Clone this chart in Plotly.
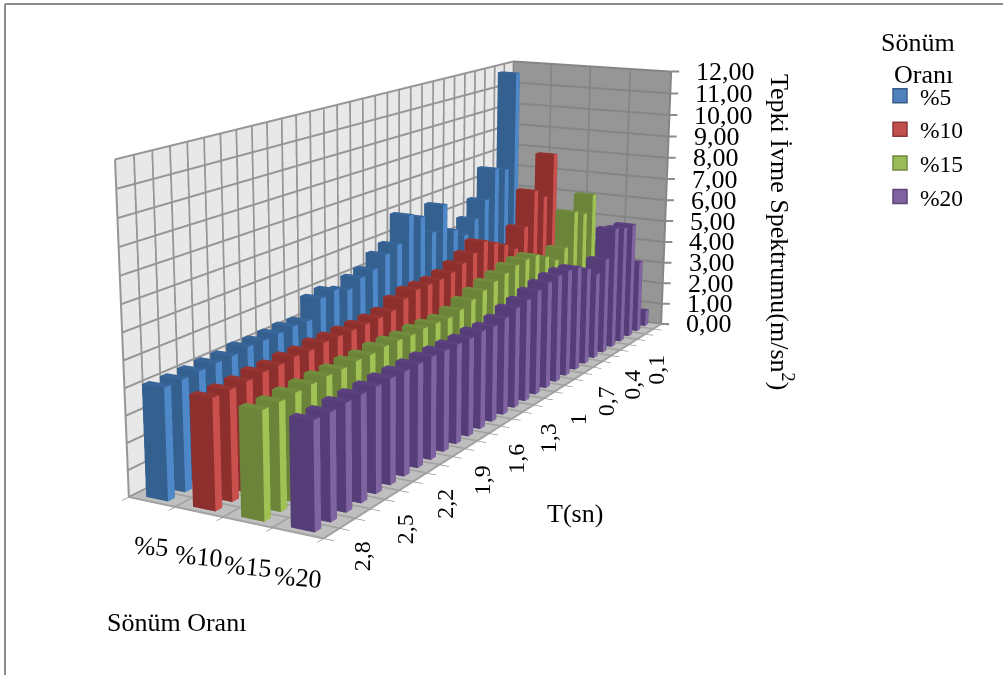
import plotly.graph_objects as go

T_LABELS = ["0,1","0,4","0,7","1","1,3","1,6","1,9","2,2","2,5","2,8"]
T_LABEL_INDEX = [0,3,6,9,12,15,18,21,24,27]
SERIES = ["%5","%10","%15","%20"]
Z_LABELS = ["0,00","1,00","2,00","3,00","4,00","5,00","6,00","7,00","8,00","9,00","10,00","11,00","12,00"]
S5  = [1.40,5.60,11.82,7.45,7.66,6.38,5.68,5.13,5.55,6.87,5.85,6.71,6.98,5.92,5.70,5.27,5.15,4.87,5.09,4.99,4.30,4.34,4.31,4.29,4.31,4.22,4.22,4.19,4.16,4.15]
S10 = [1.20,4.90,8.17,6.35,6.81,5.32,4.50,4.88,5.17,5.46,5.13,4.90,4.72,4.64,4.65,4.66,4.51,4.24,4.20,4.19,4.20,4.21,4.23,4.17,4.20,4.16,4.17,4.11,4.09,4.09]
S15 = [1.00,4.10,6.46,5.75,6.03,4.56,4.21,4.56,4.85,4.88,4.83,4.69,4.57,4.41,4.25,4.07,3.97,4.01,4.05,4.02,4.07,4.09,4.04,4.07,4.03,4.04,4.02,4.00,3.96,3.97]
S20 = [0.73,3.29,5.25,5.30,5.45,4.27,3.80,4.24,4.54,4.62,4.62,4.54,4.42,4.27,4.17,3.99,3.90,3.95,3.91,3.93,3.95,3.98,3.97,3.97,3.98,3.96,3.95,3.95,3.91,3.93]
VALUES = [S5,S10,S15,S20]
N = len(S5)

FRONT = ['#34608f','#8c2f2d','#6b843a','#553d77']
SIDE  = ['#4f88c9','#c9504c','#a0c254','#8064a2']
TOPC  = ['#38669a','#963432','#728c3e','#5b4180']
FILL  = ['#4f81bd','#c0504d','#9bbb59','#8064a2']
EDGE  = ['#385d8a','#8c3836','#71893f','#5c4776']
FONT = 'Liberation Serif'
GRID = '#8c8c8c'
H = 1491; TOP = 422; W = 1003
def px(x): return x/W
def py(y): return 1-(y+TOP)/H

HX, HY = 0.235, 0.2
fig = go.Figure()

def grid(xs,ys,zs,color):
    fig.add_trace(go.Scatter3d(x=xs,y=ys,z=zs,mode='lines',line=dict(color=color,width=4),
                               hoverinfo='skip',showlegend=False,connectgaps=False))
E = 0.004
lx,ly,lz = [],[],[]
for j in range(N+1): lx += [E,E,None]; ly += [j,j,None]; lz += [0,12,None]
for k in range(13): lx += [E,E,None]; ly += [0,N,None]; lz += [k,k,None]
grid(lx,ly,lz,'#969696')
lx,ly,lz = [],[],[]
for j in range(5): lx += [j,j,None]; ly += [N-E,N-E,None]; lz += [0,12,None]
for k in range(13): lx += [0,4,None]; ly += [N-E,N-E,None]; lz += [k,k,None]
grid(lx,ly,lz,'#858585')
lx,ly,lz = [],[],[]
for j in range(5): lx += [j,j,None]; ly += [0,N,None]; lz += [E,E,None]
for j in range(N+1): lx += [0,4,None]; ly += [j,j,None]; lz += [E,E,None]
grid(lx,ly,lz,'#a2a2a2')

for s, vals in enumerate(VALUES):
    X,Y,Z,I,J,K,FC = [],[],[],[],[],[],[]
    for i, v in enumerate(vals):
        yc = N-0.5-i
        x0,x1,y0,y1 = s+.5-HX, s+.5+HX, yc-HY, yc+HY
        b = len(X)
        X += [x0,x1,x1,x0,x0,x1,x1,x0]; Y += [y0,y0,y1,y1,y0,y0,y1,y1]; Z += [0,0,0,0,v,v,v,v]
        for f,c in [((0,1,5,4),FRONT[s]),((1,2,6,5),SIDE[s]),((4,5,6,7),TOPC[s]),((3,2,6,7),FRONT[s]),((0,3,7,4),FRONT[s])]:
            I += [b+f[0],b+f[0]]; J += [b+f[1],b+f[2]]; K += [b+f[2],b+f[3]]; FC += [c,c]
    fig.add_trace(go.Mesh3d(x=X,y=Y,z=Z,i=I,j=J,k=K,facecolor=FC,flatshading=True,name=SERIES[s],
        lighting=dict(ambient=1,diffuse=0,specular=0,fresnel=0),showscale=False,showlegend=False))
    fig.add_trace(go.Scatter(x=[None],y=[None],mode='markers',name=SERIES[s],
        marker=dict(symbol='square',size=14,color=FILL[s],line=dict(color=EDGE[s],width=1.5))))

axis = dict(showticklabels=False,title='',showgrid=False,showbackground=True,
            showline=False,zeroline=False,dtick=1,tick0=0,ticks='outside',ticklen=8,tickcolor=GRID,tickwidth=2)
txt = dict(family=FONT,size=26,color='black')
ann3d = []
for k,l in enumerate(Z_LABELS):
    ann3d.append(dict(x=4,y=N,z=k,text=l,showarrow=True,ax=8,ay=0,arrowhead=0,arrowwidth=2,arrowcolor=GRID,
                      xanchor='left',yanchor='middle',borderpad=16,font=txt))
for idx,l in zip(T_LABEL_INDEX,T_LABELS):
    ann3d.append(dict(x=4,y=N-0.5-idx,z=0,text=l,showarrow=False,textangle=-90,xanchor='center',yanchor='middle',
                      xshift=-1,yshift=-43,font=dict(family=FONT,size=24,color='black')))
for s,l in enumerate(SERIES):
    ann3d.append(dict(x=s+.5,y=0,z=0,text=l,showarrow=False,textangle=5,xanchor='center',yanchor='middle',
                      xshift=0,yshift=-44,font=txt))

def note(x,y,t,angle=0):
    return dict(x=px(x),y=py(y),xref='paper',yref='paper',text=t,showarrow=False,textangle=angle,
                xanchor='center',yanchor='middle',font=txt)

fig.update_layout(width=W,height=H,margin=dict(l=0,r=0,t=0,b=0),paper_bgcolor='white',plot_bgcolor='white',
  xaxis=dict(visible=False),yaxis=dict(visible=False),
  legend=dict(x=px(880),y=py(74),xanchor='left',yanchor='top',bgcolor='rgba(0,0,0,0)',
              font=dict(family=FONT,size=23.5,color='black'),itemclick=False),
  scene=dict(domain=dict(x=[0,790/W],y=[0,1]),aspectmode='manual',aspectratio=dict(x=0.6664,y=2.5873,z=1),
    camera=dict(eye=dict(x=2.7496,y=-5.2517,z=1.3663),center=dict(x=-0.0889,y=-0.1247,z=-0.2178),up=dict(x=0,y=0,z=1)),
    xaxis=dict(axis,range=[0,4],backgroundcolor='#e8e8e8'),
    yaxis=dict(axis,range=[0,N],backgroundcolor='#969696'),
    zaxis=dict(axis,range=[0,12],backgroundcolor='#bfbfbf',ticks=''),
    annotations=ann3d),
  annotations=[note(575,513,'T(sn)'),note(176,622,'Sönüm Oranı'),note(782,232,'Tepki İvme Spektrumu(m/sn<sup>2</sup>)',90),
               note(918,42,'Sönüm'),note(923,74,'Oranı')],
  shapes=[dict(type='line',xref='paper',yref='paper',x0=px(5),x1=1,y0=py(4),y1=py(4),line=dict(color='#8c8c8c',width=2)),
          dict(type='line',xref='paper',yref='paper',x0=px(5),x1=px(5),y0=py(4),y1=py(675),line=dict(color='#8c8c8c',width=2))])
fig.write_html("out.html",config={'displayModeBar':False},
  post_script=f"document.body.style.margin='0';document.body.style.overflow='hidden';document.querySelector('.plotly-graph-div').style.marginTop='-{TOP}px';")
